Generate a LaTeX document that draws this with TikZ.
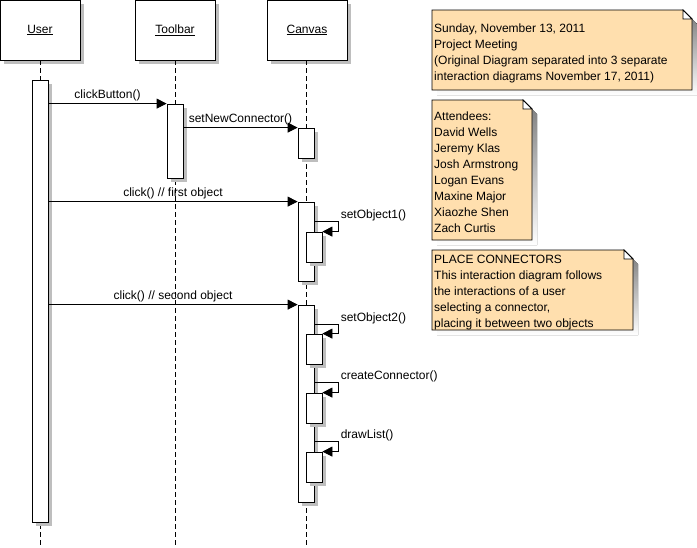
\documentclass[tikz,border=0pt]{standalone}
\usepackage{fontspec}
\setmainfont{Liberation Sans}
\usetikzlibrary{arrows.meta,shadows}
\definecolor{notefill}{RGB}{255,223,174}
\definecolor{shade}{RGB}{190,190,190}
\tikzset{
  sh/.style={general shadow={fill=shade, shadow xshift=4pt, shadow yshift=-4pt}},
  obj/.style={draw, fill=white, sh, minimum width=80pt, minimum height=60pt, inner sep=0pt, line width=0.8pt},
  act/.style={draw, fill=white, sh, minimum width=16pt, inner sep=0pt, line width=0.8pt},
  life/.style={dash pattern=on 5pt off 3pt, line width=0.8pt},
  msg/.style={-{Triangle[length=10pt,width=10pt]}, line width=0.8pt},
  lbl/.style={inner sep=2pt},
  selflbl/.style={anchor=west, inner sep=2pt, yshift=6pt},
  notetext/.style={anchor=north west, align=left, inner sep=0pt}
}
\newcommand\drawnote[4]{%
  \fill[shade] (#1+5,#2+5) -- (#3+5-9,#2+5) -- (#3+5,#2+5+9) -- (#3+5,#4+5) -- (#1+5,#4+5) -- cycle;
  \filldraw[fill=notefill, draw=black, line width=0.8pt] (#1,#2) -- (#3-9,#2) -- (#3,#2+9) -- (#3,#4) -- (#1,#4) -- cycle;
  \filldraw[fill=white, draw=black, line width=0.8pt] (#3-9,#2) -- (#3-9,#2+9) -- (#3,#2+9) -- cycle;
}
\begin{document}
\begin{tikzpicture}[x=1pt,y=-1pt,font=\fontsize{12}{16}\selectfont]
\useasboundingbox[fill=white] (0,0) rectangle (697,547);

% objects
\node[obj] (user) at (40,30) {\underline{User}};
\node[obj] (toolbar) at (175,30) {\underline{Toolbar}};
\node[obj] (canvas) at (307,30) {\underline{Canvas}};

\coordinate (uend) at (40,545);
\coordinate (tend) at (175,545);
\coordinate (cend) at (306,545);
\draw[life] (user.south) -- (uend);
\draw[life] (toolbar.south) -- (tend);
\draw[life] (canvas.south -| cend) -- (cend);

% activations
\node[act, minimum height=442pt] (ua) at (40,301) {};
\node[act, minimum height=74pt] (ta) at (175,141) {};
\node[act, minimum height=30pt] (ca1) at (306,143) {};
\node[act, minimum height=79pt] (ca2) at (306,241.5) {};
\node[act, minimum height=30pt] (ca2n) at (314,247) {};
\node[act, minimum height=197pt] (ca3) at (306,403.5) {};
\node[act, minimum height=30pt] (ca3a) at (314,349) {};
\node[act, minimum height=30pt] (ca3b) at (314,408) {};
\node[act, minimum height=30pt] (ca3c) at (314,467) {};

% messages
\draw[msg] (ua.east |- ta.north) -- (ta.north west) node[midway, above, lbl] {clickButton()};
\draw[msg] (ta.east |- ca1.north) -- (ca1.north west) node[midway, above, lbl] {setNewConnector()};
\draw[msg] (ua.east |- ca2.north) -- (ca2.north west) node[midway, above, lbl] {click() // first object};
\draw[msg] (ua.east |- ca3.north) -- (ca3.north west) node[midway, above, lbl] {click() // second object};

% self calls
\draw[msg] ([yshift=10pt]ca2n.north east -| ca2.east) -- ++(24,0) node[selflbl] {setObject1()} |- (ca2n.north east);
\draw[msg] ([yshift=9pt]ca3a.north east -| ca3.east) -- ++(24,0) node[selflbl] {setObject2()} |- (ca3a.north east);
\draw[msg] ([yshift=10pt]ca3b.north east -| ca3.east) -- ++(24,0) node[selflbl] {createConnector()} |- (ca3b.north east);
\draw[msg] ([yshift=10pt]ca3c.north east -| ca3.east) -- ++(24,0) node[selflbl] {drawList()} |- (ca3c.north east);

% notes
\drawnote{432}{10}{692}{90}
\node[notetext] (n1) at (434,24) {Sunday, November 13, 2011\\Project Meeting\\(Original Diagram separated into 3 separate\\interaction diagrams November 17, 2011)};
\drawnote{432}{100}{532}{240}
\node[notetext] (n2) at (434,112) {Attendees:\\David Wells\\Jeremy Klas\\Josh Armstrong\\Logan Evans\\Maxine Major\\Xiaozhe Shen\\Zach Curtis};
\drawnote{432}{250}{633}{330}
\node[notetext] (n3) at (434,255) {PLACE CONNECTORS\\This interaction diagram follows\\the interactions of a user\\selecting a connector,\\placing it between two objects};
\end{tikzpicture}
\end{document}
